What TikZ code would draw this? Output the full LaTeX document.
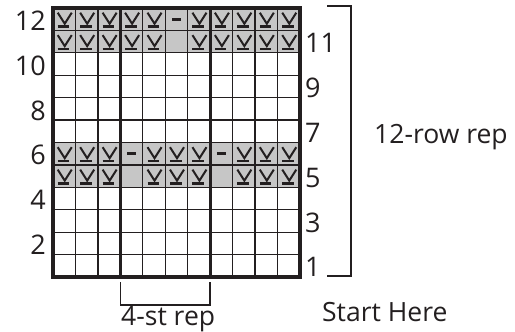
\documentclass[tikz,border=0pt]{standalone}
\usepackage{fontspec}
\setmainfont{Open Sans}
\definecolor{ink}{HTML}{231F20}
\definecolor{cellgrey}{HTML}{C6C6C6}
\begin{document}
\begin{tikzpicture}[x=1pt,y=-1pt,
  lbl/.style={inner sep=0pt,text=ink,font=\fontsize{26.5}{28}\selectfont},
  num/.style={inner sep=0pt,text=ink,font=\fontsize{27}{29}\selectfont},
  thin/.style={draw=ink,line width=1.2pt},
  thick/.style={draw=ink,line width=2.8pt},
  border/.style={draw=ink,line width=3.6pt},
  brk/.style={draw=ink,line width=1.5pt},
  kst/.pic={
    \draw[ink,line width=2pt] (-6.5,-6.5) -- (0.5,4.5) -- (7.5,-6.5);
    \draw[ink,line width=2.6pt] (-6.5,7.4) -- (5,7.4);
  },
  pst/.pic={
    \draw[ink,line width=2.6pt] (-4.5,0) -- (4.5,0);
  }]
\useasboundingbox (0,0) rectangle (515,332);
\def\xa{53}\def\xb{300}\def\ya{8}\def\yb{277}
\pgfmathsetmacro{\cw}{247/11}
\pgfmathsetmacro{\ch}{269/12}
% grey rows (12,11,6,5)
\fill[cellgrey] (\xa,\ya) rectangle (\xb,{\ya+2*\ch});
\fill[cellgrey] (\xa,{\ya+6*\ch}) rectangle (\xb,{\ya+8*\ch});
% thin grid
\foreach \i in {1,...,10} \draw[thin] ({\xa+\i*\cw},\ya) -- ({\xa+\i*\cw},\yb);
\foreach \j in {1,...,11} \draw[thin] (\xa,{\ya+\j*\ch}) -- (\xb,{\ya+\j*\ch});
% thick repeat lines
\draw[thick] ({\xa+3*\cw},\ya) -- ({\xa+3*\cw},\yb);
\draw[thick] ({\xa+7*\cw},\ya) -- ({\xa+7*\cw},\yb);
% border
\draw[border] (\xa,\ya) rectangle (\xb,\yb);
% symbols row 12 (top, index 0) and row 11 (index 1)
\foreach \c in {1,2,3,4,5,7,8,9,10,11} {
  \pic at ({\xa+(\c-0.5)*\cw},{\ya+0.5*\ch}) {kst};
  \pic at ({\xa+(\c-0.5)*\cw},{\ya+1.5*\ch}) {kst};
}
\pic at ({\xa+5.5*\cw},{\ya+0.5*\ch}) {pst};
% rows 6 (index 6) and 5 (index 7)
\foreach \c in {1,2,3,5,6,7,9,10,11} {
  \pic at ({\xa+(\c-0.5)*\cw},{\ya+6.5*\ch}) {kst};
  \pic at ({\xa+(\c-0.5)*\cw},{\ya+7.5*\ch}) {kst};
}
\pic at ({\xa+3.5*\cw},{\ya+6.5*\ch}) {pst};
\pic at ({\xa+7.5*\cw},{\ya+6.5*\ch}) {pst};
% row numbers
\foreach \r in {2,4,...,12}
  \node[num,anchor=east] (L\r) at (46,{\ya+(12-\r+0.5)*\ch+1.5}) {\r};
\foreach \r in {1,3,...,11}
  \node[num,anchor=west] (R\r) at (305,{\ya+(12-\r+0.5)*\ch+1.5}) {\r};
% right bracket
\coordinate (rt1) at (327,6);
\coordinate (rt2) at (351,6);
\coordinate (rb2) at (351,276);
\coordinate (rb1) at (327,276);
\draw[brk] (rt1) -- (rt2) -- (rb2) -- (rb1);
\node[lbl,anchor=base west] (rep12) at (374,143) {12-row rep};
% bottom bracket
\coordinate (bl1) at ({\xa+3*\cw},282);
\coordinate (bl2) at ({\xa+3*\cw},305);
\coordinate (br2) at ({\xa+7*\cw},305);
\coordinate (br1) at ({\xa+7*\cw},282);
\draw[brk] (bl1) -- (bl2) -- (br2) -- (br1);
\node[lbl,anchor=base west] (rep4) at (121,325) {4-st rep};
\node[lbl,anchor=base west] (start) at (322,321) {Start Here};
\end{tikzpicture}
\end{document}
